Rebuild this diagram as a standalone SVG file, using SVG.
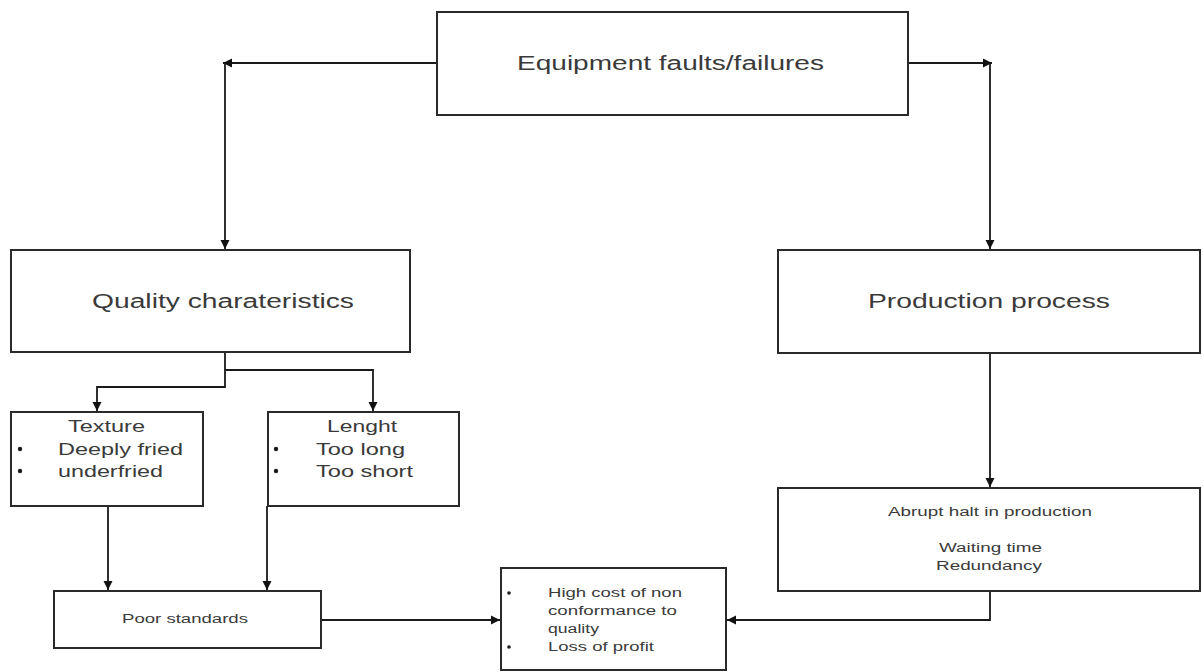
<svg xmlns="http://www.w3.org/2000/svg" width="1203" height="672" viewBox="0 0 1203 672">
<style>
.box{fill:#fff;stroke:#2a2a2a;stroke-width:2}
.ln{fill:none;stroke:#1a1a1a;stroke-width:1.8}
text{font-family:"Liberation Sans",Arial,sans-serif;fill:#3a3a3a}
.big{font-size:20px}
.mid{font-size:16px}
.sm{font-size:12.5px}
.dot{fill:#1a1a1a}
</style>
<defs>
<marker id="ah" markerWidth="10" markerHeight="10" refX="9" refY="5" orient="auto" markerUnits="userSpaceOnUse">
<path d="M0,0.5 L9,5 L0,9.5 Z" fill="#111"/>
</marker>
</defs>
<rect width="1203" height="672" fill="#fff"/>
<g id="connectors">
<path class="ln" d="M437,63 H223" marker-end="url(#ah)"/>
<path class="ln" d="M225,63 V249" marker-end="url(#ah)"/>
<path class="ln" d="M908,63 H992" marker-end="url(#ah)"/>
<path class="ln" d="M990,63 V249" marker-end="url(#ah)"/>
<path class="ln" d="M225,352 V387 H97 V411" marker-end="url(#ah)"/>
<path class="ln" d="M225,370 H373 V411" marker-end="url(#ah)"/>
<path class="ln" d="M108,506 V590" marker-end="url(#ah)"/>
<path class="ln" d="M267,506 V590" marker-end="url(#ah)"/>
<path class="ln" d="M321,620 H500" marker-end="url(#ah)"/>
<path class="ln" d="M990,353 V487" marker-end="url(#ah)"/>
<path class="ln" d="M990,591 V620 H727" marker-end="url(#ah)"/>
</g>
<g id="equipment">
<rect class="box" x="437" y="12" width="471" height="103"/>
<text class="big" x="517" y="70" textLength="307" lengthAdjust="spacingAndGlyphs">Equipment faults/failures</text>
</g>
<g id="quality">
<rect class="box" x="11" y="250" width="399" height="102"/>
<text class="big" x="92" y="308" textLength="262" lengthAdjust="spacingAndGlyphs">Quality charateristics</text>
</g>
<g id="production">
<rect class="box" x="778" y="250" width="422" height="103"/>
<text class="big" x="868" y="308" textLength="242" lengthAdjust="spacingAndGlyphs">Production process</text>
</g>
<g id="texture">
<rect class="box" x="11" y="412" width="192" height="94"/>
<text class="mid" x="68" y="432" textLength="77" lengthAdjust="spacingAndGlyphs">Texture</text>
<circle class="dot" cx="20" cy="449" r="2.2"/>
<text class="mid" x="58" y="455" textLength="125" lengthAdjust="spacingAndGlyphs">Deeply fried</text>
<circle class="dot" cx="20" cy="471" r="2.2"/>
<text class="mid" x="58" y="477" textLength="105" lengthAdjust="spacingAndGlyphs">underfried</text>
</g>
<g id="lenght">
<rect class="box" x="268" y="412" width="191" height="94"/>
<text class="mid" x="327" y="432" textLength="70" lengthAdjust="spacingAndGlyphs">Lenght</text>
<circle class="dot" cx="276" cy="449" r="2.2"/>
<text class="mid" x="316" y="455" textLength="89" lengthAdjust="spacingAndGlyphs">Too long</text>
<circle class="dot" cx="276" cy="471" r="2.2"/>
<text class="mid" x="316" y="477" textLength="97" lengthAdjust="spacingAndGlyphs">Too short</text>
</g>
<g id="poor">
<rect class="box" x="54" y="591" width="267" height="57"/>
<text class="sm" x="122" y="623" textLength="126" lengthAdjust="spacingAndGlyphs">Poor standards</text>
</g>
<g id="highcost">
<rect class="box" x="501" y="568" width="225" height="102"/>
<circle class="dot" cx="509" cy="593" r="1.8"/>
<text class="sm" x="548" y="597" textLength="134" lengthAdjust="spacingAndGlyphs">High cost of non</text>
<text class="sm" x="548" y="615" textLength="129" lengthAdjust="spacingAndGlyphs">conformance to</text>
<text class="sm" x="548" y="633" textLength="51" lengthAdjust="spacingAndGlyphs">quality</text>
<circle class="dot" cx="509" cy="647" r="1.8"/>
<text class="sm" x="548" y="651" textLength="106" lengthAdjust="spacingAndGlyphs">Loss of profit</text>
</g>
<g id="abrupt">
<rect class="box" x="778" y="488" width="422" height="103"/>
<text class="sm" x="888" y="516" textLength="204" lengthAdjust="spacingAndGlyphs">Abrupt halt in production</text>
<text class="sm" x="939" y="552" textLength="103" lengthAdjust="spacingAndGlyphs">Waiting time</text>
<text class="sm" x="936" y="570" textLength="106" lengthAdjust="spacingAndGlyphs">Redundancy</text>
</g>
</svg>
